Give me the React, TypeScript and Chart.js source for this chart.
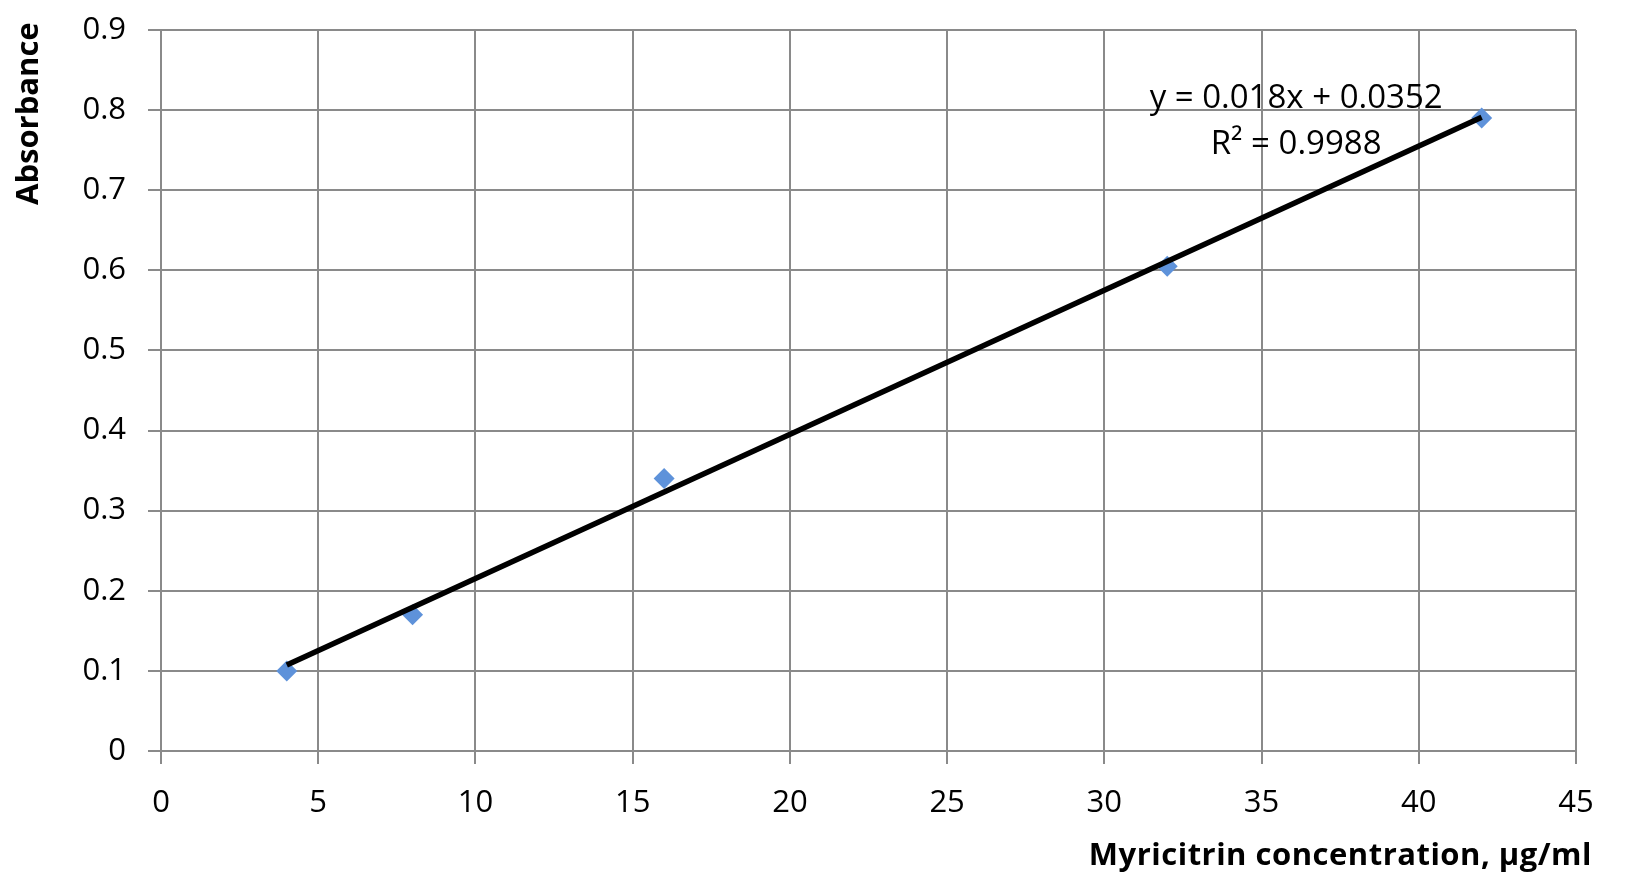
import React, { useEffect, useRef } from "react";
import { Chart, registerables } from "chart.js";

Chart.register(...registerables);

// ---- data ----
const concentrations = [4, 8, 16, 32, 42];
const absorbances = [0.1, 0.17, 0.34, 0.605, 0.79];
const trendX = [4, 42];
const trendY = [0.1072, 0.7912];
const yTickLabels = ["0", "0.1", "0.2", "0.3", "0.4", "0.5", "0.6", "0.7", "0.8", "0.9"];
const equationText = "y = 0.018x + 0.0352";
const r2Text = "R² = 0.9988";
const xTitle = "Myricitrin concentration, µg/ml";
const yTitle = "Absorbance";

const FONT = "'Open Sans', 'Noto Sans', sans-serif";
const GRID = "#8a8a8a";

const textPlugin = {
  id: "texts",
  afterDraw(chart: any) {
    const ctx = chart.ctx;
    const xs = chart.scales.x;
    const ys = chart.scales.y;
    ctx.save();
    ctx.fillStyle = "#000";
    // equation annotation
    ctx.font = `33px ${FONT}`;
    ctx.textAlign = "center";
    ctx.textBaseline = "alphabetic";
    ctx.fillText(equationText, xs.getPixelForValue(36.1), ys.getPixelForValue(0.8027));
    ctx.fillText(r2Text, xs.getPixelForValue(36.1), ys.getPixelForValue(0.7453));
    // x title
    ctx.font = `bold 31px ${FONT}`;
    (ctx as any).letterSpacing = "0.5px";
    ctx.textAlign = "right";
    ctx.fillText(xTitle, 1592, 865);
    (ctx as any).letterSpacing = "0px";
    // y title
    ctx.translate(38, 205);
    ctx.rotate(-Math.PI / 2);
    ctx.textAlign = "left";
    ctx.fillText(yTitle, 0, 0);
    ctx.restore();
  },
};

export default function App() {
  const ref = useRef<HTMLCanvasElement | null>(null);
  useEffect(() => {
    document.body.style.margin = "0";
    const canvas = ref.current!;
    const chart = new Chart(canvas, {
      type: "scatter",
      data: {
        datasets: [
          {
            label: "trend",
            data: trendX.map((x, i) => ({ x, y: trendY[i] })),
            showLine: true,
            borderColor: "#000",
            borderWidth: 5.5,
            pointRadius: 0,
            fill: false,
          },
          {
            label: "data",
            data: concentrations.map((x, i) => ({ x, y: absorbances[i] })),
            pointStyle: "rectRot",
            pointRadius: 10.5,
            backgroundColor: "#5E92DA",
            borderColor: "#5E92DA",
            borderWidth: 0,
          },
        ],
      },
      options: {
        responsive: false,
        animation: false,
        layout: { padding: { top: 30, right: 50, left: 0, bottom: 0 } },
        plugins: { legend: { display: false }, tooltip: { enabled: false } },
        scales: {
          x: {
            type: "linear",
            min: 0,
            max: 45,
            ticks: { stepSize: 5, color: "#000", font: { family: FONT, size: 31 }, padding: 21 },
            grid: { color: GRID, lineWidth: 2, tickLength: 13, drawTicks: true },
            border: { color: GRID, width: 2 },
            afterFit: (s: any) => {
              s.height = 134;
              s.paddingLeft = 0;
              s.paddingRight = 0;
            },
          },
          y: {
            type: "linear",
            min: 0,
            max: 0.9,
            ticks: {
              stepSize: 0.1,
              color: "#000",
              font: { family: FONT, size: 31 },
              padding: 22,
              callback: (_v: any, i: number) => yTickLabels[i],
            },
            grid: { color: GRID, lineWidth: 2, tickLength: 13, drawTicks: true },
            border: { color: GRID, width: 2 },
            afterFit: (s: any) => {
              s.width = 161;
              s.paddingTop = 0;
              s.paddingBottom = 0;
            },
          },
        },
      },
      plugins: [textPlugin],
    });
    return () => chart.destroy();
  }, []);
  return (
    <div style={{ width: 1626, height: 885, background: "#fff" }}>
      <canvas ref={ref} width={1626} height={885} />
    </div>
  );
}
